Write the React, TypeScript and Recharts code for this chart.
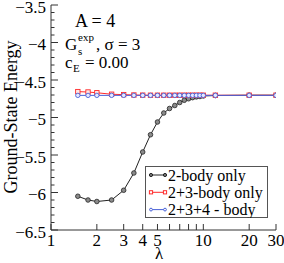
import { LineChart, Line, XAxis, YAxis, Legend } from "recharts";

// lambda values of the computed points
const lambdas = [1.5, 1.75, 2, 2.5, 3, 3.5, 4, 4.5, 5, 5.5, 6, 6.5, 7, 7.5, 8, 8.5, 9, 9.5, 10, 12, 20, 30];

const twoBody = [
  -6.05, -6.1, -6.12, -6.1, -5.97, -5.74, -5.46, -5.23, -5.06, -4.94, -4.88, -4.84, -4.8, -4.77, -4.75,
  -4.735, -4.725, -4.72, -4.713, -4.707, -4.703, -4.703,
];
const threeBody = [
  -4.655, -4.66, -4.67, -4.69, -4.695, -4.7, -4.702, -4.703, -4.703, -4.703, -4.703, -4.703, -4.703, -4.703,
  -4.703, -4.703, -4.703, -4.703, -4.703, -4.703, -4.703, -4.703,
];
const fourBody = [
  -4.705, -4.705, -4.705, -4.705, -4.705, -4.705, -4.705, -4.705, -4.705, -4.705, -4.705, -4.705, -4.705,
  -4.705, -4.705, -4.705, -4.705, -4.705, -4.705, -4.705, -4.705, -4.705,
];

const xTicks = [1, 2, 3, 4, 5, 6, 7, 8, 9, 10, 20, 30];
const xLabels = [1, 2, 3, 4, 5, 10, 20, 30];
const yMajor = [-6.5, -6, -5.5, -5, -4.5, -4, -3.5];
const yTicks = Array.from({ length: 31 }, (_, i) => Math.round((-6.5 + i * 0.1) * 10) / 10);

const FONT = "'Liberation Serif', 'Times New Roman', serif";
const AXIS = "#333";
const BLACK = "#222";
const RED = "#ff2a2a";
const BLUE = "#4a62d8";

const data = lambdas.map((l, i) => ({
  lambda: l,
  two: twoBody[i],
  three: threeBody[i],
  four: fourBody[i],
}));

const fmt = (v: number) => String(v).replace("-", "\u2212");
const isMajorY = (v: number) => yMajor.some((m) => Math.abs(m - v) < 1e-6);

const BottomTick = ({ x, y, payload }: any) => (
  <g>
    <line x1={x} x2={x} y1={y} y2={y - 6} stroke={AXIS} />
    {xLabels.includes(payload.value) && (
      <text x={x} y={y + 16} textAnchor="middle" fontSize={17} fontFamily={FONT} fill="#000">
        {payload.value}
      </text>
    )}
  </g>
);

const TopTick = ({ x, y }: any) => <line x1={x} x2={x} y1={y} y2={y + 6} stroke={AXIS} />;

const LeftTick = ({ x, y, payload }: any) => {
  const major = isMajorY(payload.value);
  return (
    <g>
      <line x1={x} x2={x + (major ? 7 : 3.5)} y1={y} y2={y} stroke={AXIS} />
      {major && (
        <text x={x - 5} y={y + 7.5} textAnchor="end" fontSize={17} fontFamily={FONT} fill="#000">
          {fmt(payload.value)}
        </text>
      )}
    </g>
  );
};

const RightTick = ({ x, y, payload }: any) => (
  <line x1={x} x2={x - (isMajorY(payload.value) ? 7 : 3.5)} y1={y} y2={y} stroke={AXIS} />
);

const CircleDot = ({ cx, cy, index }: any) => (
  <circle key={index} cx={cx} cy={cy} r={2.3} fill="#8a8a8a" stroke={BLACK} strokeWidth={0.8} />
);
const SquareDot = ({ cx, cy, index }: any) => (
  <rect key={index} x={cx - 2.2} y={cy - 2.2} width={4.4} height={4.4} fill="#ffe8e8" stroke={RED} strokeWidth={0.9} />
);
const BlueDot = ({ cx, cy, index }: any) => (
  <circle key={index} cx={cx} cy={cy} r={2.2} fill="#e6e9ff" stroke={BLUE} strokeWidth={0.9} />
);

const legendItems = [
  { label: "2-body only", color: BLACK, shape: "circle" },
  { label: "2+3-body only", color: RED, shape: "square" },
  { label: "2+3+4 - body", color: BLUE, shape: "diamond" },
];

const LegendBox = () => (
  <svg width={123} height={52}>
    <rect x={0.5} y={0.5} width={122} height={51} fill="#fff" stroke="#555" />
    {legendItems.map((it, i) => {
      const cy = 9 + i * 17.3;
      const ends = [6, 20];
      return (
        <g key={it.label}>
          <line x1={6} x2={20} y1={cy} y2={cy} stroke={it.color} />
          {ends.map((ex) =>
            it.shape === "circle" ? (
              <circle key={ex} cx={ex} cy={cy} r={1.6} fill="#777" stroke={it.color} />
            ) : it.shape === "square" ? (
              <rect key={ex} x={ex - 1.6} y={cy - 1.6} width={3.2} height={3.2} fill="#fff" stroke={it.color} />
            ) : (
              <circle key={ex} cx={ex} cy={cy} r={1.4} fill="#fff" stroke={it.color} />
            )
          )}
          <text x={23} y={cy + 5.5} fontSize={16} fontFamily={FONT} fill="#000">
            {it.label}
          </text>
        </g>
      );
    })}
  </svg>
);

export default function App() {
  return (
    <div style={{ position: "absolute", left: 0, top: 0 }}>
      <LineChart width={284} height={263} data={data} margin={{ top: 5, right: 8, bottom: 0, left: 0 }}>
        <XAxis
          dataKey="lambda"
          type="number"
          scale="log"
          domain={[1, 30]}
          allowDataOverflow
          ticks={xTicks}
          interval={0}
          tick={<BottomTick />}
          tickSize={0}
          tickMargin={0}
          tickLine={false}
          height={33}
          axisLine={{ stroke: AXIS }}
        />
        <XAxis
          xAxisId="top"
          orientation="top"
          type="number"
          scale="log"
          domain={[1, 30]}
          allowDataOverflow
          ticks={xTicks}
          interval={0}
          tick={<TopTick />}
          tickSize={0}
          tickMargin={0}
          tickLine={false}
          height={0}
          axisLine={{ stroke: AXIS }}
        />
        <YAxis
          type="number"
          domain={[-6.5, -3.5]}
          allowDataOverflow
          ticks={yTicks}
          interval={0}
          tick={<LeftTick />}
          tickSize={0}
          tickMargin={0}
          tickLine={false}
          width={51}
          axisLine={{ stroke: AXIS }}
        />
        <YAxis
          yAxisId="right"
          orientation="right"
          type="number"
          domain={[-6.5, -3.5]}
          allowDataOverflow
          ticks={yTicks}
          interval={0}
          tick={<RightTick />}
          tickSize={0}
          tickMargin={0}
          tickLine={false}
          width={0}
          axisLine={{ stroke: AXIS }}
        />
        <Line dataKey="two" stroke={BLACK} strokeWidth={1} dot={CircleDot} isAnimationActive={false} />
        <Line dataKey="three" stroke={RED} strokeWidth={1} dot={SquareDot} isAnimationActive={false} />
        <Line dataKey="four" stroke={BLUE} strokeWidth={1} dot={BlueDot} isAnimationActive={false} />
        <Legend
          layout="vertical"
          align="center"
          verticalAlign="middle"
          wrapperStyle={{ left: 145, top: 166, width: 123, height: 52 }}
          content={() => <LegendBox />}
        />
        <text x={17} y={117} transform="rotate(-90 17 117)" textAnchor="middle" fontSize={18} fontFamily={FONT}>
          Ground-State Energy
        </text>
        <text x={159} y={259} textAnchor="middle" fontSize={17} fontFamily={FONT}>
          λ
        </text>
        <text x={75} y={27} fontSize={18} fontFamily={FONT}>
          A = 4
        </text>
        <text x={65} y={50} fontSize={17} fontFamily={FONT}>
          G
        </text>
        <text x={78} y={41} fontSize={11} fontFamily={FONT}>
          exp
        </text>
        <text x={78} y={55} fontSize={11} fontFamily={FONT}>
          s
        </text>
        <text x={96} y={50} fontSize={17} fontFamily={FONT}>
          , σ = 3
        </text>
        <text x={65} y={68} fontSize={17} fontFamily={FONT}>
          c
        </text>
        <text x={73} y={72} fontSize={11} fontFamily={FONT}>
          E
        </text>
        <text x={85} y={68} fontSize={17} fontFamily={FONT}>
          = 0.00
        </text>
      </LineChart>
    </div>
  );
}
